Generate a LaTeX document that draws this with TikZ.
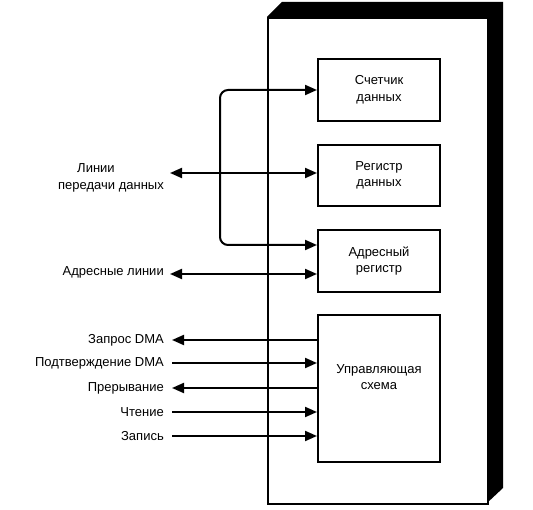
\documentclass[tikz,border=0pt]{standalone}
\usepackage{fontspec}
\setmainfont{Liberation Sans}
\usetikzlibrary{arrows.meta}
\begin{document}
\begin{tikzpicture}[x=1pt,y=-1pt,
  txt/.style={font=\fontsize{13}{16.5}\selectfont, inner sep=0pt},
  blk/.style={txt, draw, line width=2pt, minimum width=122pt, align=center, anchor=north west},
  lbl/.style={txt, anchor=east, align=right},
  sig/.style={line width=2pt, -{Triangle[length=12pt,width=10pt]}},
  dsig/.style={line width=2pt, {Triangle[length=12pt,width=10pt]}-{Triangle[length=12pt,width=10pt]}}]
\useasboundingbox (0,0) rectangle (533,510);
% shadowed frame
\fill[black] (267,17) -- (282,2) -- (503,2) -- (503,488) -- (487,503) -- (487,17) -- cycle;
\node[draw, line width=2pt, fill=white, minimum width=220pt, minimum height=486pt, anchor=north west, inner sep=0pt] (frame) at (267,17) {};
% inner blocks
\node[blk, minimum height=62pt] (cnt) at (317,58) {Счетчик\\данных};
\node[blk, minimum height=61pt] (reg) at (317,144) {Регистр\\данных};
\node[blk, minimum height=62pt] (adr) at (317,229) {Адресный\\регистр};
\node[blk, minimum height=147pt] (ctl) at (317,314) {Управляющая\\схема\\[6pt]};
% left labels
\node[txt, align=center, anchor=east] (dl) at (164,178) {Линии\hspace*{30pt}\\передачи данных};
\node[lbl] (al) at (164,272) {Адресные линии};
\node[lbl] (l1) at (164,340) {Запрос DMA};
\node[lbl] (l2) at (164,363) {Подтверждение DMA};
\node[lbl] (l3) at (164,388) {Прерывание};
\node[lbl] (l4) at (164,412) {Чтение};
\node[lbl] (l5) at (164,436) {Запись};
% coordinates
\coordinate (bus) at (220,0);
\coordinate (dle) at (170,173);
\coordinate (ale) at (170,274);
\coordinate (adrA) at (317,245);
\coordinate (adrB) at (317,274);
\coordinate (e1) at (172,340);
\coordinate (e2) at (172,363);
\coordinate (e3) at (172,388);
\coordinate (e4) at (172,412);
\coordinate (e5) at (172,436);
% connectors
\draw[dsig, rounded corners=8pt] (cnt.west) -- (cnt.west -| bus) -- (bus |- adrA) -- (adrA);
\draw[dsig] (dle) -- (dle -| reg.west);
\draw[dsig] (ale) -- (adrB);
\draw[sig] (ctl.west |- e1) -- (e1);
\draw[sig] (e2) -- (ctl.west |- e2);
\draw[sig] (ctl.west |- e3) -- (e3);
\draw[sig] (e4) -- (ctl.west |- e4);
\draw[sig] (e5) -- (ctl.west |- e5);
\end{tikzpicture}
\end{document}
